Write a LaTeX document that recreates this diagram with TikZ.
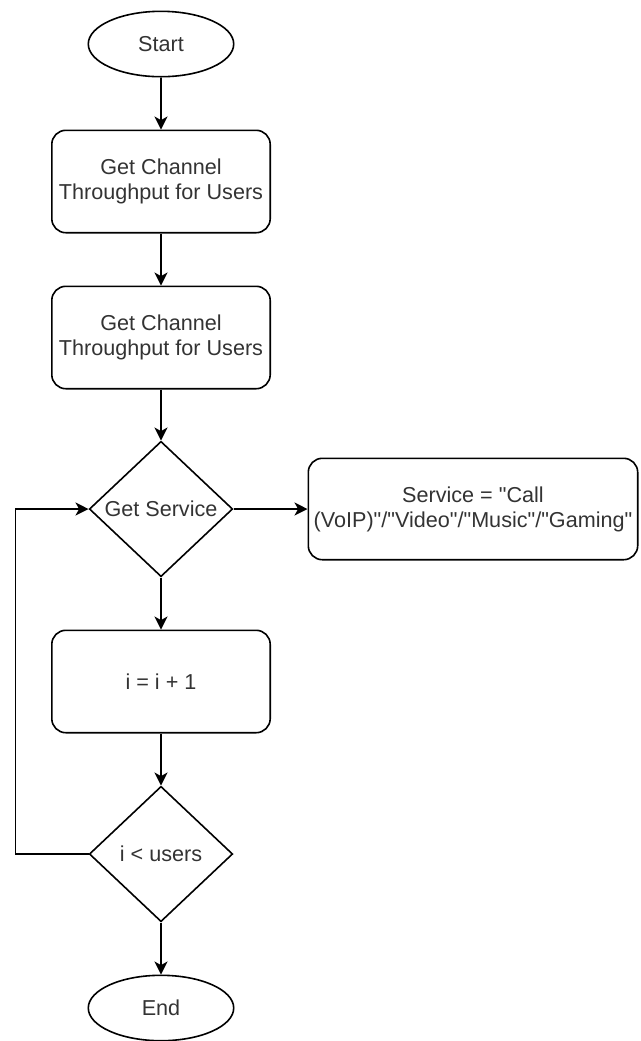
\documentclass[tikz,border=0pt]{standalone}
\usepackage{fontspec}
\setmainfont{Liberation Sans}
\usetikzlibrary{positioning,arrows.meta,shapes.geometric}

\begin{document}
\begin{tikzpicture}[
  x=0.5pt, y=-0.5pt,
  font=\fontsize{10.8}{12.5}\selectfont,
  >={Stealth[length=6.5pt,width=6.5pt,inset=1.8pt]},
  node distance=26pt,
  term/.style={draw, ellipse, line width=0.8pt, text=black!80, inner sep=0pt,
               minimum width=72.7pt, minimum height=32.7pt},
  proc/.style={draw, rounded corners=7pt, align=center, line width=0.8pt, text=black!80,
               inner sep=1pt, minimum width=109.2pt, minimum height=51.2pt},
  cond/.style={draw, diamond, align=center, line width=0.8pt, text=black!80,
               inner sep=0pt, minimum width=71.7pt, minimum height=67.7pt},
  arrow/.style={->, line width=0.8pt},
]
\useasboundingbox (0,0) rectangle (641,1041);

% Main chain
\node[term] (start) at (161,44) {Start};
\node[proc, below=of start] (thr1) {Get Channel\\ Throughput for Users};
\node[proc, below=of thr1] (thr2) {Get Channel\\ Throughput for Users};
\node[cond, below=25.5pt of thr2] (getsvc) {Get Service};
\node[proc, below=of getsvc] (inc) {i = i + 1};
\node[cond, below=of inc] (less) {i < users};
\node[term, below=of less] (stop) {End};

% Service
\node[proc, right=37pt of getsvc, minimum width=164.7pt, minimum height=50.7pt] (svc)
      {Service = \textquotedbl Call\\(VoIP)\textquotedbl/\textquotedbl Video\textquotedbl/\textquotedbl Music\textquotedbl/\textquotedbl Gaming\textquotedbl};

% Flows
\draw[arrow] (start) -- (thr1);
\draw[arrow] (thr1) -- (thr2);
\draw[arrow] (thr2) -- (getsvc);
\draw[arrow] (getsvc) -- (svc);
\draw[arrow] (getsvc) -- (inc);
\draw[arrow] (inc) -- (less);
\draw[arrow] (less) -- (stop);
\draw[arrow] (less.west) -- ++(-73,0) |- (getsvc.west);
\end{tikzpicture}
\end{document}
